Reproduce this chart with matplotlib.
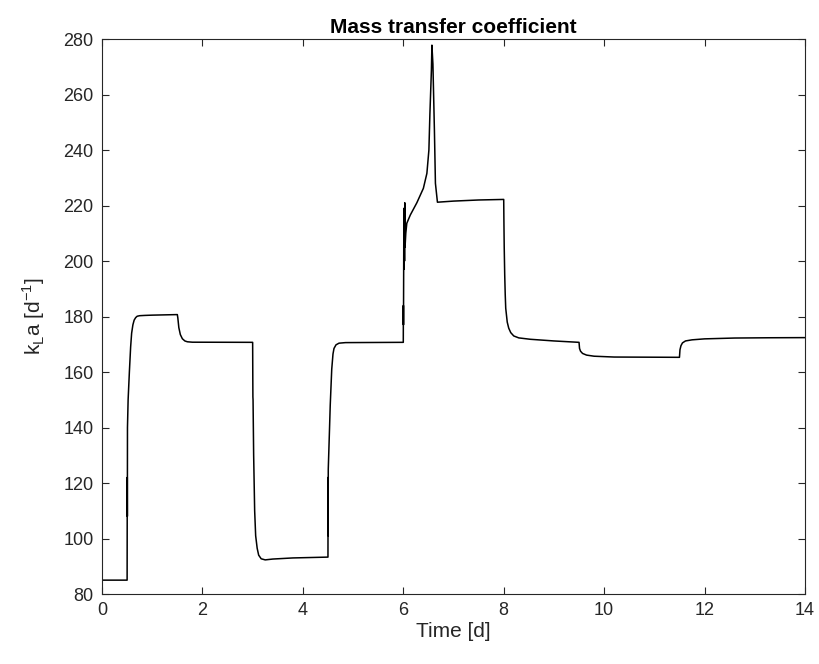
import matplotlib
matplotlib.use("Agg")
import matplotlib.pyplot as plt

# kLa trace (time in days, kLa in 1/d)
time_d = [
    0.0, 0.5, 0.503, 0.505, 0.507, 0.52, 0.545, 0.57, 0.59, 0.615, 0.64, 0.67, 0.7,
    0.75, 0.85, 1.0, 1.5,
    1.51, 1.53, 1.56, 1.6, 1.65, 1.7, 1.8, 3.0,
    3.003, 3.005, 3.008, 3.02, 3.04, 3.06, 3.09, 3.12, 3.17, 3.25, 3.4, 3.8, 4.5,
    4.502, 4.504, 4.506, 4.53, 4.545, 4.575, 4.6, 4.62, 4.66, 4.72, 4.85, 6.0,
    6.002, 6.004, 6.008, 6.012, 6.016, 6.02, 6.025, 6.03, 6.035, 6.05, 6.07,
    6.14, 6.27, 6.4, 6.47, 6.51, 6.53, 6.56, 6.57, 6.59, 6.62, 6.64, 6.68,
    7.0, 7.5, 8.0,
    8.003, 8.005, 8.01, 8.02, 8.03, 8.04, 8.07, 8.1, 8.14, 8.2, 8.3, 8.53, 9.0, 9.5,
    9.51, 9.53, 9.57, 9.65, 9.8, 10.2, 11.5,
    11.51, 11.53, 11.56, 11.62, 11.75, 12.0, 12.6, 13.3, 14.0,
]
kla = [
    85.0, 85.0, 122.0, 108.0, 140.0, 150.0, 160.0, 169.0, 174.0, 177.0, 178.7, 179.6, 180.1,
    180.3, 180.4, 180.5, 180.7,
    179.5, 176.0, 173.5, 172.0, 171.2, 170.9, 170.75, 170.7,
    158.0, 151.0, 150.0, 130.0, 110.0, 101.0, 96.5, 94.0, 92.7, 92.3, 92.6, 93.0, 93.3,
    122.0, 101.0, 125.0, 139.0, 148.0, 161.0, 166.5, 168.5, 169.8, 170.4, 170.6, 170.7,
    184.0, 177.0, 199.0, 219.0, 197.0, 215.0, 200.0, 221.0, 205.0, 210.0, 213.6,
    216.6, 221.0, 226.2, 231.6, 240.0, 253.0, 268.8, 277.8, 271.0, 247.0, 228.0, 221.2,
    221.6, 222.0, 222.2,
    216.0, 212.5, 205.0, 195.0, 188.0, 183.0, 178.0, 175.8, 174.2, 173.0, 172.3, 171.8, 171.2, 170.7,
    168.5, 167.5, 166.7, 166.1, 165.7, 165.4, 165.3,
    168.0, 169.5, 170.5, 171.2, 171.6, 171.95, 172.25, 172.35, 172.4,
]

x_ticks = [0, 2, 4, 6, 8, 10, 12, 14]
y_ticks = [80, 100, 120, 140, 160, 180, 200, 220, 240, 260, 280]

plt.rcParams["font.family"] = ["Liberation Sans", "DejaVu Sans"]
axis_grey = "#262626"

fig = plt.figure(figsize=(8.2, 6.64), dpi=100)
ax = fig.add_axes([0.1244, 0.1054, 0.8573, 0.8358])

ax.plot(time_d, kla, color="black", linewidth=1.1)

ax.set_xlim(0, 14)
ax.set_ylim(80, 280)
ax.set_xticks(x_ticks)
ax.set_yticks(y_ticks)
ax.tick_params(direction="in", top=True, right=True, length=5, width=0.8,
               colors=axis_grey, labelsize=13, pad=6)
for spine in ax.spines.values():
    spine.set_color(axis_grey)
    spine.set_linewidth(0.8)

ax.set_xlabel("Time [d]", fontsize=15, color=axis_grey, labelpad=2)
ax.set_ylabel(r"k$_\mathregular{L}$a [d$^\mathregular{-1}$]", fontsize=15,
              color=axis_grey, labelpad=12)
ax.set_title("Mass transfer coefficient", fontsize=15, fontweight="bold", pad=4)

fig.savefig("out.png", dpi=100)
